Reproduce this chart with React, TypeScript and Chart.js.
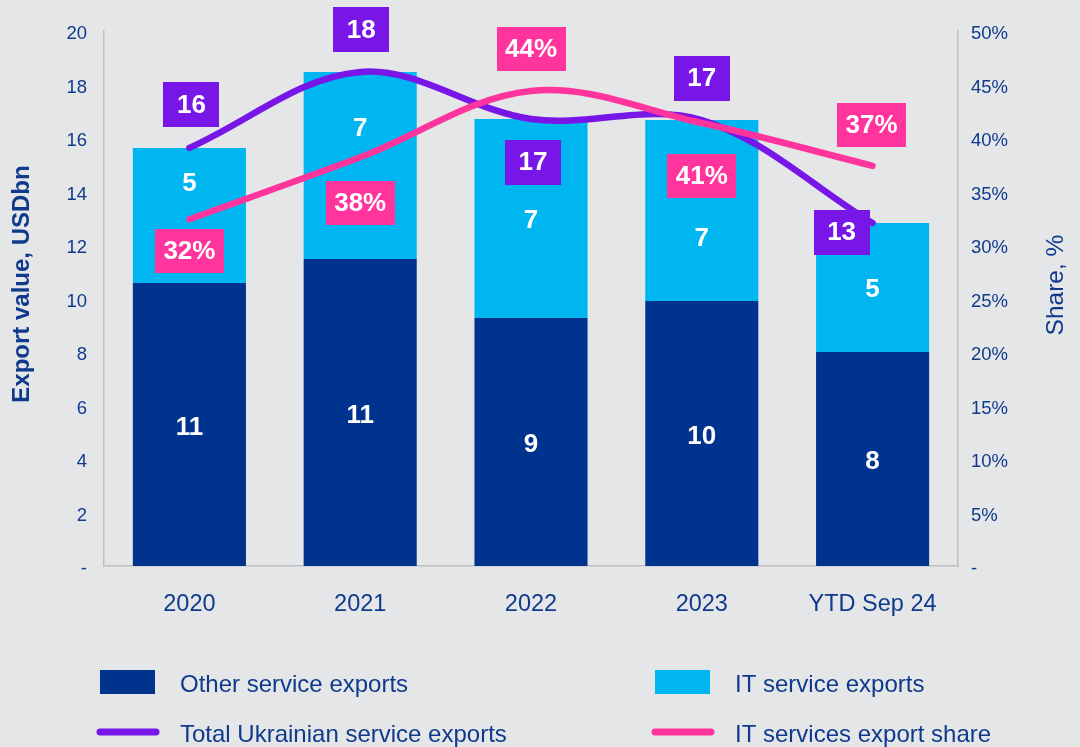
import React, { useEffect, useRef } from "react";
import { Chart, registerables } from "chart.js";

Chart.register(...registerables);

// ---- data ----
const categories = ["2020", "2021", "2022", "2023", "YTD Sep 24"];
const otherExports = [10.58, 11.48, 9.27, 9.91, 8.0];
const itExports = [5.05, 6.99, 7.44, 6.76, 4.82];
const totalExports = [15.63, 18.47, 16.71, 16.67, 12.82];
const itShare = [32.4, 38.2, 44.4, 41.4, 37.4];
const seriesNames = [
  "Other service exports",
  "IT service exports",
  "Total Ukrainian service exports",
  "IT services export share",
];
const leftAxisTitle = "Export value, USDbn";
const rightAxisTitle = "Share, %";

// ---- styles ----
const FONT = '"Liberation Sans", Arial, Helvetica, sans-serif';
const BG = "#e5e6e8";
const TEXT = "#0f3a8c";
const C_OTHER = "#00338d";
const C_IT = "#00b6f1";
const C_TOTAL = "#7816e8";
const C_SHARE = "#ff349c";
const AXIS = "#bfbfbf";

// label offsets (pixels) relative to the data point
const itLabelDy = [-34, -39, 0, 26, 0];
const totalLabelOff = [
  [2, -43],
  [1, -42],
  [2, 43],
  [0, -42],
  [-31, 9],
];
const shareLabelOff = [
  [0, 32],
  [0, 46],
  [0, -42],
  [0, 53],
  [-1, -41],
];

const overlayPlugin = {
  id: "overlay",
  afterDatasetsDraw(chart: any) {
    const ctx = chart.ctx;
    ctx.save();
    ctx.textAlign = "center";
    ctx.textBaseline = "middle";
    ctx.font = `bold 26px ${FONT}`;

    // bar value labels
    const mOther = chart.getDatasetMeta(0);
    mOther.data.forEach((el: any, i: number) => {
      const p = el.getProps(["x", "y", "base"], true);
      ctx.fillStyle = "#ffffff";
      ctx.fillText(String(Math.round(otherExports[i])), p.x, (p.y + p.base) / 2 + 3);
    });
    const mIt = chart.getDatasetMeta(1);
    mIt.data.forEach((el: any, i: number) => {
      const p = el.getProps(["x", "y", "base"], true);
      ctx.fillStyle = "#ffffff";
      ctx.fillText(String(Math.round(itExports[i])), p.x, (p.y + p.base) / 2 + 2 + itLabelDy[i]);
    });

    const box = (cx: number, cy: number, w: number, h: number, color: string, text: string) => {
      ctx.fillStyle = color;
      ctx.fillRect(Math.round(cx - w / 2), Math.round(cy - h / 2), w, h);
      ctx.fillStyle = "#ffffff";
      ctx.fillText(text, cx, cy + 1);
    };

    const mTotal = chart.getDatasetMeta(2);
    mTotal.data.forEach((el: any, i: number) => {
      const p = el.getProps(["x", "y"], true);
      box(p.x + totalLabelOff[i][0], p.y + totalLabelOff[i][1], 56, 45, C_TOTAL, String(Math.round(totalExports[i])));
    });
    const mShare = chart.getDatasetMeta(3);
    mShare.data.forEach((el: any, i: number) => {
      const p = el.getProps(["x", "y"], true);
      box(p.x + shareLabelOff[i][0], p.y + shareLabelOff[i][1], 69, 44, C_SHARE, Math.round(itShare[i]) + "%");
    });
    ctx.restore();
  },
  afterDraw(chart: any) {
    const ctx = chart.ctx;
    ctx.save();
    // axis titles
    ctx.fillStyle = TEXT;
    ctx.textAlign = "center";
    ctx.textBaseline = "middle";
    ctx.save();
    ctx.translate(22, 284);
    ctx.rotate(-Math.PI / 2);
    ctx.font = `bold 24px ${FONT}`;
    ctx.fillText(leftAxisTitle, 0, 0);
    ctx.restore();
    ctx.save();
    ctx.translate(1056, 285);
    ctx.rotate(-Math.PI / 2);
    ctx.font = `24.5px ${FONT}`;
    ctx.fillText(rightAxisTitle, 0, 0);
    ctx.restore();

    // legend
    ctx.font = `24px ${FONT}`;
    ctx.textAlign = "left";
    const rowY = [685, 735];
    const colX = [100, 655];
    ctx.fillStyle = C_OTHER;
    ctx.fillRect(colX[0], 670, 55, 24);
    ctx.fillStyle = C_IT;
    ctx.fillRect(colX[1], 670, 55, 24);
    ctx.lineCap = "round";
    ctx.lineWidth = 7;
    ctx.strokeStyle = C_TOTAL;
    ctx.beginPath();
    ctx.moveTo(colX[0], 732);
    ctx.lineTo(colX[0] + 56, 732);
    ctx.stroke();
    ctx.strokeStyle = C_SHARE;
    ctx.beginPath();
    ctx.moveTo(colX[1], 732);
    ctx.lineTo(colX[1] + 56, 732);
    ctx.stroke();
    ctx.fillStyle = TEXT;
    ctx.fillText(seriesNames[0], 180, rowY[0]);
    ctx.fillText(seriesNames[1], 735, rowY[0]);
    ctx.fillText(seriesNames[2], 180, rowY[1]);
    ctx.fillText(seriesNames[3], 735, rowY[1]);
    ctx.restore();
  },
};

export default function App() {
  const ref = useRef<HTMLCanvasElement | null>(null);
  useEffect(() => {
    if (!ref.current) return;
    const chart = new Chart(ref.current, {
      type: "bar",
      data: {
        labels: categories,
        datasets: [
          {
            type: "bar",
            label: seriesNames[0],
            data: otherExports,
            backgroundColor: C_OTHER,
            borderWidth: 0,
            barPercentage: 0.662,
            categoryPercentage: 1,
            yAxisID: "y",
            stack: "bars",
            order: 2,
          },
          {
            type: "bar",
            label: seriesNames[1],
            data: itExports,
            backgroundColor: C_IT,
            borderWidth: 0,
            barPercentage: 0.662,
            categoryPercentage: 1,
            yAxisID: "y",
            stack: "bars",
            order: 3,
          },
          {
            type: "line",
            label: seriesNames[2],
            data: totalExports,
            borderColor: C_TOTAL,
            backgroundColor: C_TOTAL,
            borderWidth: 6.5,
            borderCapStyle: "round",
            borderJoinStyle: "round",
            tension: 0.35,
            pointRadius: 0,
            fill: false,
            yAxisID: "y",
            stack: "total",
            order: 1,
          },
          {
            type: "line",
            label: seriesNames[3],
            data: itShare,
            borderColor: C_SHARE,
            backgroundColor: C_SHARE,
            borderWidth: 6.5,
            borderCapStyle: "round",
            borderJoinStyle: "round",
            tension: 0.35,
            pointRadius: 0,
            fill: false,
            yAxisID: "y1",
            order: 0,
          },
        ] as any,
      },
      options: {
        responsive: false,
        animation: false,
        devicePixelRatio: 1,
        layout: { padding: { top: 31, left: 0, right: 0, bottom: 0 } },
        plugins: {
          legend: { display: false },
          tooltip: { enabled: false },
        },
        scales: {
          x: {
            stacked: true,
            grid: { display: false, drawTicks: false },
            border: { display: true, color: AXIS, width: 1.5 },
            ticks: { color: TEXT, font: { family: FONT, size: 23.5 }, padding: 24 },
            afterFit: (s: any) => {
              s.height = 181;
            },
          },
          y: {
            stacked: true,
            min: 0,
            max: 20,
            grid: { display: false, drawTicks: false },
            border: { display: true, color: AXIS, width: 1.5 },
            ticks: {
              stepSize: 2,
              color: TEXT,
              font: { family: FONT, size: 18.5 },
              padding: 17,
              labelOffset: 3,
              callback: (v: any) => (Number(v) === 0 ? "-" : String(v)),
            },
            afterFit: (s: any) => {
              s.width = 104;
            },
          },
          y1: {
            position: "right",
            min: 0,
            max: 50,
            grid: { display: false, drawTicks: false },
            border: { display: true, color: AXIS, width: 1.5 },
            ticks: {
              stepSize: 5,
              color: TEXT,
              font: { family: FONT, size: 18.5 },
              padding: 13,
              labelOffset: 3,
              callback: (v: any) => (Number(v) === 0 ? "-" : v + "%"),
            },
            afterFit: (s: any) => {
              s.width = 122;
            },
          },
        } as any,
      },
      plugins: [overlayPlugin],
    });
    return () => chart.destroy();
  }, []);

  return (
    <div
      style={{
        position: "fixed",
        left: 0,
        top: 0,
        width: 1080,
        height: 747,
        background: BG,
      }}
    >
      <canvas ref={ref} width={1080} height={747} style={{ display: "block" }} />
    </div>
  );
}
